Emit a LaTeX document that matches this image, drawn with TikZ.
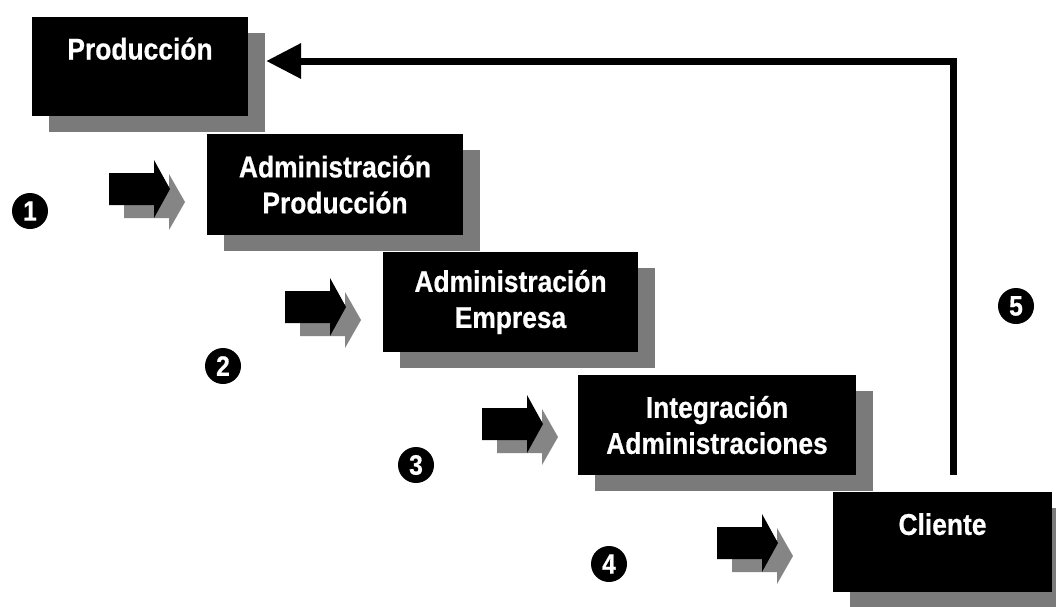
\documentclass[tikz,border=0pt]{standalone}
\usepackage{fontspec}
\setmainfont{Liberation Sans}[FakeStretch=0.88,BoldFeatures={FakeBold=0.6}]
\usetikzlibrary{shadows,arrows.meta}
\begin{document}
\begin{tikzpicture}[x=1pt,y=-1pt,
  stage/.style={fill=black,text=white,align=center,inner sep=0pt,
    font=\fontsize{30}{36}\selectfont\bfseries,
    drop shadow={shadow xshift=17pt,shadow yshift=-16pt,fill=black!52,opacity=1}},
  num/.style={circle,fill=black,text=white,inner sep=0pt,minimum size=36pt,
    font=\fontsize{28}{28}\selectfont\bfseries},
  ret/.style={line width=7pt,-{Triangle[length=35pt,width=34pt]}},
  flowarrow/.pic={
    \fill[black!48] (15,13) -- ++(45,-16) -- ++(0,-12) -- ++(16,28) -- ++(-16,28)
      -- ++(0,-12) -- ++(-45,0) -- cycle;
    \fill[black] (0,0) -- (0,-16) -- (45,-16) -- (45,-29) -- (61,0) -- (45,29)
      -- (45,16) -- (0,16) -- cycle;
    \coordinate (-tip) at (61,0);
  }]
\clip (0,0) rectangle (1056,606);
\fill[white] (0,0) rectangle (1056,606);
\node[stage,minimum width=216pt,minimum height=99pt] (b1) at (140,66.5) {Producción\\\mbox{}};
\node[stage,minimum width=256pt,minimum height=101pt] (b2) at (335,184.5) {Administración\\Producción};
\node[stage,minimum width=255pt,minimum height=100pt] (b3) at (510.5,302) {Administración\\Empresa};
\node[stage,minimum width=278pt,minimum height=100pt] (b4) at (717,425) {Integración\\Administraciones};
\node[stage,minimum width=219pt,minimum height=100pt] (b5) at (942.5,542) {Cliente\\\mbox{}};
\pic (a1) at (109,189) {flowarrow};
\pic (a2) at (285,307) {flowarrow};
\pic (a3) at (482,424) {flowarrow};
\pic (a4) at (717,543) {flowarrow};
\node[num] (n1) at (30,211) {1};
\node[num] (n2) at (223,366) {2};
\node[num] (n3) at (416,465) {3};
\node[num] (n4) at (609,564) {4};
\node[num] (n5) at (1016,306) {5};
\coordinate (r0) at ([xshift=10.5pt,yshift=17pt]b5.north);
\draw[ret] (r0) |- ([xshift=18pt,yshift=5.5pt]b1.east);
\end{tikzpicture}
\end{document}
